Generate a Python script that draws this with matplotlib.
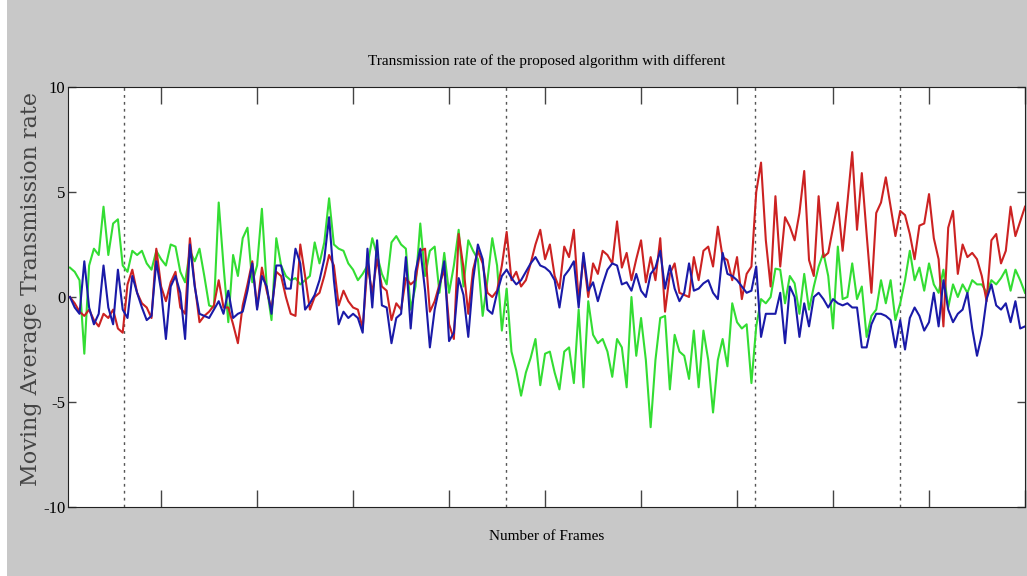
import numpy as np
import matplotlib
matplotlib.use("Agg")
import matplotlib.pyplot as plt
from matplotlib.patches import Rectangle

# moving average transmission rate, one value per frame
red = [0.0, -0.3, -0.7, -0.9, -0.6, -1.1, -1.4, -0.8, -1.0, -0.6,
       -1.5, -1.7, 0.6, 1.3, 0.2, -0.3, -0.5, -1.0, 2.3, 0.5,
       -0.2, 0.7, 1.2, -0.5, -0.8, 2.8, 0.6, -1.2, -0.9, -0.7,
       -0.4, 0.8, -0.5, -0.5, -1.3, -2.2, -0.4, 0.6, 1.7, -0.5,
       1.4, 0.3, -0.6, 1.2, 1.0, 0.0, -0.8, -0.9, 2.5, 1.0,
       -0.6, 0.0, 0.2, 1.0, 2.0, 1.5, -0.4, 0.3, -0.2, -0.5,
       -0.6, -1.5, 1.5, 0.2, 1.8, 0.5, 0.3, -1.1, -0.3, -0.6,
       0.9, 0.6, 0.8, 2.2, 2.3, -0.7, -0.2, 0.6, 1.3, -1.3,
       -2.0, 3.0, 1.4, -0.8, 1.3, 2.2, 1.6, 0.2, 0.0, 0.3,
       1.5, 3.1, 0.8, 1.2, 0.5, 0.8, 1.6, 2.5, 3.2, 1.8,
       2.5, 1.0, 0.4, 2.4, 1.9, 3.2, -0.2, 1.9, 0.0, 1.6,
       1.1, 2.2, 2.0, 1.6, 3.6, 1.4, 2.1, 0.8, 1.8, 2.7,
       0.7, 1.9, 0.8, 2.8, -0.7, 1.1, 1.6, 0.2, 0.1, 0.0,
       1.9, 0.8, 2.2, 2.4, 1.45, 3.35, 1.9, 1.76, 0.8, 1.9,
       -0.1, 1.1, 1.45, 5.0, 6.4, 2.7, 0.5, 4.8, 1.45, 3.8,
       3.35, 2.7, 4.0, 6.0, 1.76, 1.0, 4.8, 1.9, 2.1, 3.3,
       4.5, 2.2, 4.5, 6.9, 3.2, 5.9, 3.0, 0.2, 4.0, 4.5,
       5.7, 4.3, 2.9, 4.1, 3.9, 3.0, 1.8, 3.4, 3.5, 4.9,
       2.8, 1.8, -1.4, 3.3, 4.1, 1.1, 2.5, 1.9, 2.1, 1.8,
       1.0, -0.2, 2.7, 3.0, 1.6, 2.2, 4.3, 2.9, 3.6, 4.3]

green = [1.4, 1.2, 0.8, -2.7, 1.5, 2.3, 2.0, 4.3, 2.0, 3.5,
         3.7, 1.5, 1.2, 2.2, 2.0, 2.2, 1.6, 1.3, 2.2, 1.8,
         1.5, 2.5, 2.4, 1.2, 0.7, 2.2, 1.7, 2.3, 1.0, -0.4,
         -0.5, 4.5, 1.5, -1.2, 2.0, 1.0, 2.8, 3.3, 0.7, 1.5,
         4.2, 0.5, -1.1, 2.8, 1.5, 1.0, 0.8, 0.9, 0.6, 0.8,
         1.0, 2.6, 1.6, 2.6, 4.7, 2.5, 2.3, 2.2, 1.6, 1.3,
         0.8, 1.1, 1.5, 2.8, 2.0, 1.1, 0.6, 2.6, 2.9, 2.5,
         2.3, -0.6, 0.5, 3.5, 1.0, 2.2, 2.4, 0.2, 2.1, 0.2,
         1.5, 3.2, 0.5, 2.7, 2.2, 1.8, -0.9, 0.8, 2.8, 1.5,
         -1.6, 0.4, -2.6, -3.5, -4.7, -3.6, -2.9, -2.0, -4.2, -2.7,
         -2.6, -3.6, -4.4, -2.6, -2.4, -4.1, -0.6, -4.3, -0.2, -1.8,
         -2.2, -2.0, -2.6, -3.8, -2.0, -2.4, -4.3, 0.0, -2.8, -1.0,
         -3.0, -6.2, -3.0, -1.0, -0.9, -4.4, -1.8, -2.6, -2.8, -3.9,
         -1.6, -4.3, -1.6, -3.0, -5.5, -3.0, -2.0, -3.3, -0.3, -1.2,
         -1.5, -1.3, -4.1, -1.4, -0.1, -0.3, 0.0, 1.35, 1.3, -0.3,
         1.0, 0.65, -0.8, 1.1, -0.6, 0.5, 1.45, 2.1, 1.0, -1.5,
         2.4, -0.1, 0.0, 1.6, -0.1, 0.5, -1.9, -0.9, -0.6, 0.8,
         -0.3, 0.8, -1.1, -0.3, 0.8, 2.2, 0.8, 1.4, 0.3, 1.6,
         0.6, 0.2, 1.3, -0.5, 0.6, 0.0, 0.6, 0.2, 0.8, 0.6,
         0.6, 0.2, 0.8, 0.6, 0.9, 1.3, 0.3, 1.3, 0.8, 0.2]

blue = [0.0, -0.5, -0.8, 1.7, -0.5, -1.3, -0.8, 1.5, -0.5, -1.3,
        1.3, -0.6, -1.0, 1.0, 0.2, -0.5, -1.1, -0.9, 1.7, 0.3,
        -2.0, 0.5, 1.0, 0.2, -2.0, 2.5, 0.5, -0.8, -0.9, -1.0,
        -0.6, -0.2, -0.8, 0.3, -1.0, -0.8, -0.7, 0.3, 1.6, -0.6,
        1.0, 0.5, -0.8, 1.5, 1.5, 0.4, 0.4, 2.3, 1.6, -0.6,
        -0.3, 0.1, 0.8, 1.8, 3.8, 0.8, -1.3, -0.7, -1.0, -0.8,
        -1.0, -1.7, 2.3, -0.5, 2.7, -0.4, -0.5, -2.2, -1.0, -0.8,
        1.9, -1.5, 1.2, 2.3, 0.3, -2.4, -0.6, 0.5, 1.7, -2.1,
        -1.7, 0.9, 0.1, -1.9, 0.8, 2.5, 1.8, -0.6, -0.8, 0.2,
        1.0, 1.3, 0.9, 0.6, 0.8, 1.2, 1.6, 1.9, 1.5, 1.4,
        1.2, 0.8, -0.5, 1.0, 1.3, 1.7, -0.5, 2.1, 0.3, 0.7,
        -0.2, 0.6, 1.3, 1.6, 1.5, 0.6, 0.7, 0.3, 1.1, 0.3,
        0.0, 1.1, 1.4, 2.2, 0.4, 1.5, 0.4, -0.2, 0.2, 1.6,
        0.3, 0.4, 0.65, 0.8, 0.2, -0.1, 2.1, 1.1, 1.0, 0.8,
        0.5, 0.2, 0.3, 1.45, -1.9, -0.8, -0.8, -0.8, 0.2, -2.2,
        0.5, 0.0, -1.9, -0.3, -1.4, 0.0, 0.2, -0.1, -0.5, -0.1,
        -0.3, -0.4, -0.3, -0.5, -0.5, -2.4, -2.4, -1.3, -0.8, -0.8,
        -0.9, -1.1, -2.4, -1.1, -2.5, -1.0, -0.5, -0.9, -1.6, -1.2,
        0.2, -1.4, 0.8, -0.6, -1.2, -0.8, -0.6, 0.2, -1.5, -2.8,
        -1.8, -0.1, 0.6, -0.4, -0.6, -0.3, -1.2, -0.2, -1.5, -1.4]

# frames where the scenario changes (dotted separators)
boundaries = [12.3, 91.8, 143.7, 173.9]

frames = np.arange(1, len(red) + 1)

fig = plt.figure(figsize=(10.27, 5.76), dpi=100, facecolor="white")
fig.patches.append(Rectangle((7 / 1027, 0), 1, 1, transform=fig.transFigure,
                             facecolor="#c8c8c8", edgecolor="none", zorder=-10))
ax = fig.add_axes([68 / 1027, 69 / 576, 957 / 1027, 420 / 576])

for b in boundaries:
    ax.axvline(b, color="#555555", linestyle=(0, (2, 3)), linewidth=1.0, zorder=1)

ax.plot(frames, green, color="#33dd33", linewidth=1.5, zorder=2)
ax.plot(frames, red, color="#cc2222", linewidth=1.5, zorder=3)
ax.plot(frames, blue, color="#1a1aa8", linewidth=1.5, zorder=4)

ax.set_xlim(0.6, 200)
ax.set_ylim(-10, 10)
ax.set_xticks(np.arange(20, 201, 20))
ax.set_xticklabels([])
ax.set_yticks([-10, -5, 0, 5, 10])
ax.set_yticklabels(["-10", "-5", "0", "5", "10"], family="Liberation Serif", fontsize=12)
ax.tick_params(axis="x", direction="in", length=12, top=True, width=1, color="#444444")
ax.tick_params(axis="y", direction="in", length=6, right=True, width=1, color="#444444", pad=2)
for s in ax.spines.values():
    s.set_color("#222222")

ax.set_title("Transmission rate of the proposed algorithm with different",
             family="Liberation Serif", fontsize=11, pad=16)
ax.set_xlabel("Number of Frames", family="Liberation Serif", fontsize=11, labelpad=13)
ax.set_ylabel("Moving Average Transmission rate", family="DejaVu Serif",
              fontsize=16, color="#444444")
ax.yaxis.set_label_coords(-0.027, 0.52)

fig.savefig("out.png", dpi=100, facecolor=fig.get_facecolor())
